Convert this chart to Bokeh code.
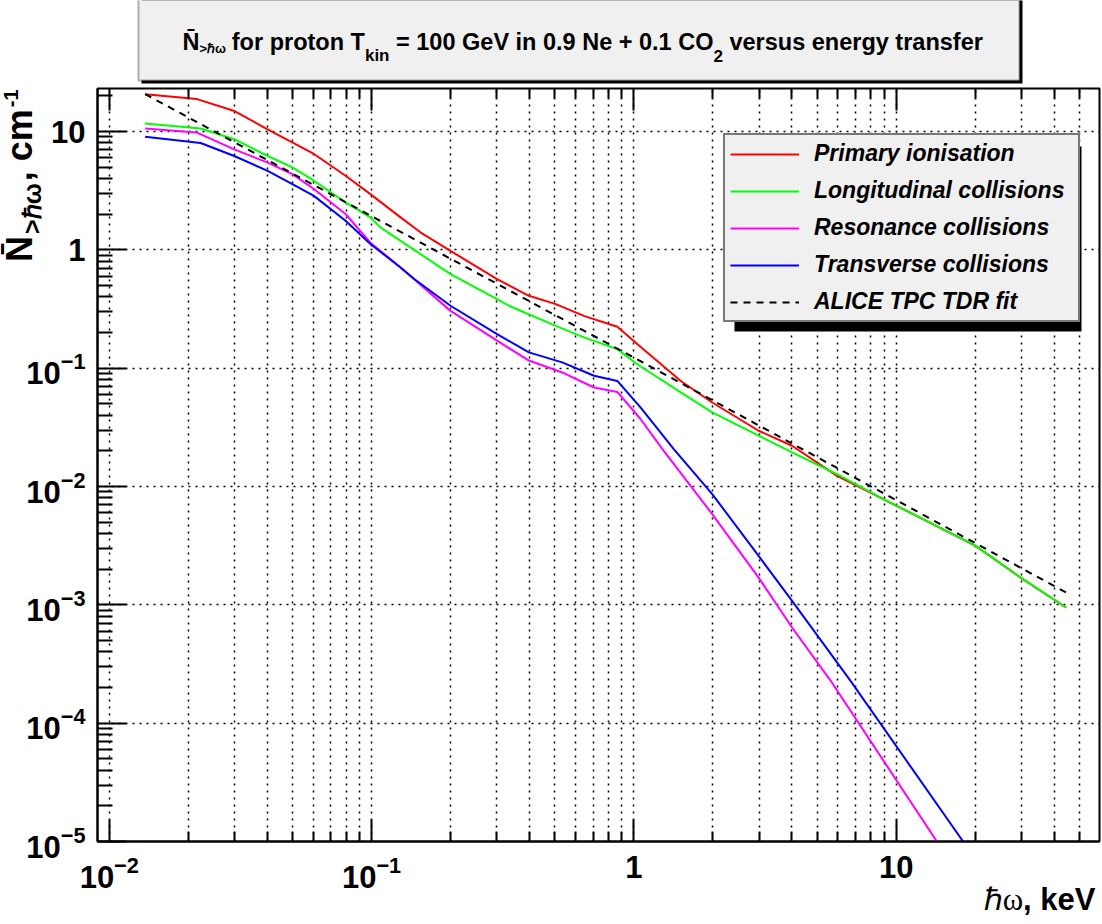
import math
from bokeh.plotting import figure
from bokeh.models import (FixedTicker, LogAxis, Legend, LegendItem, Label,
                          BoxAnnotation, Range1d, LogTickFormatter, Row, Column)
from bokeh.embed import file_html
from bokeh.resources import INLINE

# ---------------- data ----------------
energy_primary = [0.0137, 0.0216, 0.0298, 0.040, 0.0603, 0.0796, 0.099, 0.129, 0.154,
                  0.200, 0.301, 0.398, 0.504, 0.645, 0.865, 1.03, 1.51, 1.99, 2.99,
                  4.01, 5.95, 8.97, 20.1, 29.8, 44.5]
n_primary = [20.7, 18.8, 15.0, 10.5, 6.46, 4.23, 2.96, 1.88, 1.40,
             0.98, 0.566, 0.409, 0.348, 0.277, 0.224, 0.16, 0.078, 0.0513, 0.0296,
             0.0221, 0.0123, 0.0078, 0.00315, 0.0017, 0.00095]

energy_long = [0.0137, 0.0223, 0.0298, 0.040, 0.0499, 0.0603, 0.0796, 0.099, 0.108,
               0.200, 0.301, 0.334, 0.504, 0.645, 0.865, 1.03, 1.51, 1.99, 2.99,
               4.01, 5.95, 8.97, 20.1, 29.8, 44.5]
n_long = [11.7, 10.6, 8.65, 6.24, 4.97, 3.84, 2.52, 1.88, 1.55,
          0.624, 0.384, 0.337, 0.228, 0.182, 0.145, 0.108, 0.0624, 0.0423, 0.0269,
          0.0194, 0.0127, 0.0078, 0.00315, 0.0017, 0.00095]

energy_res = [0.0137, 0.0216, 0.0298, 0.040, 0.0499, 0.0603, 0.0796, 0.099, 0.129,
              0.145, 0.200, 0.235, 0.301, 0.398, 0.533, 0.705, 0.865, 1.06, 1.30,
              1.99, 2.99, 4.01, 5.63, 14.3]
n_res = [10.6, 9.8, 7.1, 5.48, 4.37, 3.27, 2.01, 1.15, 0.71,
         0.566, 0.305, 0.243, 0.171, 0.116, 0.092, 0.0687, 0.063, 0.0372, 0.020,
         0.00585, 0.0017, 0.000643, 0.000228, 0.00001]

energy_trans = [0.0137, 0.0223, 0.0298, 0.040, 0.0499, 0.0603, 0.0796, 0.099, 0.129,
                0.145, 0.200, 0.301, 0.398, 0.533, 0.705, 0.865, 1.06, 1.42, 1.99,
                2.99, 4.01, 6.70, 18.0]
n_trans = [9.04, 8.0, 6.24, 4.67, 3.6, 2.86, 1.76, 1.12, 0.71,
           0.57, 0.337, 0.194, 0.136, 0.112, 0.0863, 0.078, 0.0466, 0.0207, 0.00863,
           0.00259, 0.00108, 0.000228, 0.00001]

energy_fit = [0.0137, 1.0, 44.5]
n_fit = [20.7, 0.123, 0.00127]

series_names = ["Primary ionisation", "Longitudinal collisions",
                "Resonance collisions", "Transverse collisions", "ALICE TPC TDR fit"]
series_colors = ["#ff0000", "#00ff00", "#ff00ff", "#0000ff", "#000000"]

x_ticks = [0.01, 0.1, 1, 10]
y_ticks = [1e-5, 1e-4, 1e-3, 1e-2, 1e-1, 1, 10]
plain_tick_labels = {1: "1", 10: "10"}   # the others are written as 10 with an exponent

title_parts = ["N\u0304", ">\u210f\u03c9", " for proton T", "kin",
               " = 100 GeV in 0.9 Ne + 0.1 CO", "2", " versus energy transfer"]
ylabel_parts = ["N\u0304", ">\u210f\u03c9", ", cm", "-1"]
xlabel_parts = ["\u210f\u03c9", ", keV"]

# ---------------- helpers ----------------
AB = {' ': 278, ',': 278, '.': 278, '-': 333, '=': 584, '+': 584, '>': 584,
      'a': 556, 'b': 611, 'c': 556, 'd': 611, 'e': 556, 'f': 333, 'g': 611, 'h': 611,
      'i': 278, 'k': 556, 'l': 278, 'm': 889, 'n': 611, 'o': 611, 'p': 611, 'r': 389,
      's': 556, 't': 333, 'u': 611, 'v': 556, 'y': 556, 'C': 722, 'G': 778, 'N': 722,
      'O': 778, 'T': 611, 'V': 667, '\u0304': 0, '\u210f': 640, '\u03c9': 760}
for d in "0123456789":
    AB[d] = 556


def tw(s, size):
    return sum(AB.get(ch, 600) for ch in s) * size / 1000.0


FONT = "Liberation Sans"
W, H = 1102, 920
BL, BR, BT, BB = 97, 3, 88, 79

# ---------------- main plot ----------------
p = figure(width=W, height=H, x_axis_type="log", y_axis_type="log",
           x_range=Range1d(0.00902, 59.6), y_range=Range1d(1e-5, 23.1),
           output_backend="svg", toolbar_location=None,
           min_border_left=BL, min_border_right=BR, min_border_top=BT, min_border_bottom=BB)
p.background_fill_color = "white"
p.border_fill_color = "white"
p.outline_line_color = "black"
p.outline_line_width = 2

x_minor = [m * 10.0 ** e for e in range(-3, 2) for m in range(2, 10)]
y_minor = [m * 10.0 ** e for e in range(-6, 2) for m in range(2, 10)]

xa = p.xaxis[0]
xa.ticker = FixedTicker(ticks=x_ticks, minor_ticks=x_minor)
xa.formatter = LogTickFormatter(min_exponent=0)
xa.major_label_overrides = dict(plain_tick_labels)
ya = p.yaxis[0]
ya.ticker = FixedTicker(ticks=y_ticks, minor_ticks=y_minor)
ya.formatter = LogTickFormatter(min_exponent=0)
ya.major_label_overrides = dict(plain_tick_labels)

for ax, mj, mn in ((xa, 22, 10), (ya, 29, 15)):
    ax.axis_line_width = 2
    ax.axis_line_color = "black"
    ax.major_tick_in = mj
    ax.major_tick_out = 0
    ax.minor_tick_in = mn
    ax.minor_tick_out = 0
    ax.major_tick_line_width = 2
    ax.minor_tick_line_width = 2
    ax.major_tick_line_color = "black"
    ax.minor_tick_line_color = "black"
    ax.major_label_text_font = FONT
    ax.major_label_text_font_style = "bold"
    ax.major_label_text_font_size = "31px"
    ax.major_label_text_color = "black"
xa.major_label_standoff = 14
ya.major_label_standoff = 12

top = LogAxis(ticker=FixedTicker(ticks=x_ticks, minor_ticks=x_minor),
              major_label_overrides={t: "" for t in x_ticks})
top.axis_line_color = None
top.major_tick_in = 22
top.major_tick_out = 0
top.minor_tick_in = 10
top.minor_tick_out = 0
top.major_tick_line_width = 2
top.minor_tick_line_width = 2
top.major_label_standoff = 0
p.add_layout(top, "above")

for g in (p.xgrid, p.ygrid):
    g.grid_line_color = "black"
    g.grid_line_dash = "2 5"
    g.grid_line_width = 1.5
p.xgrid.minor_grid_line_color = "black"
p.xgrid.minor_grid_line_dash = "2 5"
p.xgrid.minor_grid_line_width = 1.5

xs = [energy_primary, energy_long, energy_res, energy_trans, energy_fit]
ys = [n_primary, n_long, n_res, n_trans, n_fit]
renderers = []
for i, (x, y) in enumerate(zip(xs, ys)):
    kw = dict(line_dash="7 6") if i == 4 else {}
    renderers.append(p.line(x, y, line_color=series_colors[i], line_width=2, **kw))

# frame-relative screen coordinates
fx0, fy0 = BL, H - BB


def sx(px):
    return px - fx0


def sy(py):
    return fy0 - py


p.add_layout(BoxAnnotation(left=sx(734), right=sx(1081), top=sy(146), bottom=sy(331),
                           left_units="screen", right_units="screen",
                           top_units="screen", bottom_units="screen",
                           fill_color="black", fill_alpha=1, line_color=None))

legend = Legend(items=[LegendItem(label=n, renderers=[r]) for n, r in zip(series_names, renderers)],
                location=(sx(723), sy(322)))
legend.background_fill_color = "#f0f0f0"
legend.background_fill_alpha = 1
legend.border_line_color = "black"
legend.border_line_width = 2
legend.padding = 5
legend.spacing = 10
legend.glyph_width = 69
legend.glyph_height = 26
legend.label_height = 26
legend.label_width = 259
legend.label_standoff = 15
legend.label_text_font = FONT
legend.label_text_font_style = "bold italic"
legend.label_text_font_size = "23px"
legend.label_text_color = "black"
legend.margin = 0
p.add_layout(legend)

# ---------------- transparent overlay for titles (page pixel coordinates) ----------------
ov = figure(width=W, height=H, x_range=Range1d(0, W), y_range=Range1d(H, 0),
            output_backend="svg", toolbar_location=None,
            x_axis_location=None, y_axis_location=None, min_border=0)
ov.background_fill_color = None
ov.border_fill_color = None
ov.outline_line_color = None
for g in ov.grid:
    g.visible = False

ov.add_layout(BoxAnnotation(left=141, right=1022, top=-10, bottom=83,
                            fill_color="black", fill_alpha=1, line_color=None))
ov.add_layout(BoxAnnotation(left=138, right=1019, top=-10, bottom=80,
                            fill_color="#f0f0f0", fill_alpha=1, line_color="black",
                            line_width=2))


def put(txt, x, y, size, font=FONT, style="bold", align="left", angle=0.0):
    ov.add_layout(Label(x=x, y=y, text=txt, text_font=font, text_font_style=style,
                        text_font_size=f"{size}px", text_color="black",
                        text_baseline="middle", text_align=align,
                        angle=angle, angle_units="rad"))


# title: (size, vertical centre of the piece); leading blanks become an x offset
F = 23.5
t_sizes = [F, 13, F, 17, F, 17, F]
t_mid = [41, 48, 41, 55, 41, 55, 41]
x = 182
for txt, sz, ym in zip(title_parts, t_sizes, t_mid):
    body = txt.lstrip(" ")
    lead = tw(txt[:len(txt) - len(body)], sz)
    put(body, x + lead, ym, sz)
    x += tw(txt, sz)

# y-axis title, rotated, reading upwards, its top at the top of the frame
y_sizes = [36, 25, 36, 20]
y_mid = [19, 31, 19, 10]
y_gap = [2, 3, 2, 0]
total = sum(tw(t, s) + g for t, s, g in zip(ylabel_parts, y_sizes, y_gap))
ypos = 89 + total
for txt, sz, xm, gp in zip(ylabel_parts, y_sizes, y_mid, y_gap):
    put(txt, xm, ypos, sz, angle=math.pi / 2)
    ypos -= tw(txt, sz) + gp

# x-axis title, right-aligned at the end of the axis
put(xlabel_parts[1], 1095, 899, 31, align="right")
put(xlabel_parts[0], 1095 - tw(xlabel_parts[1], 31), 899, 31,
    font="Liberation Serif", style="normal", align="right")

layout = Column(children=[Row(children=[p]),
                          Row(children=[ov], margin=(-H, 0, 0, 0))], spacing=0)
open("out.html", "w").write(file_html(layout, INLINE))
